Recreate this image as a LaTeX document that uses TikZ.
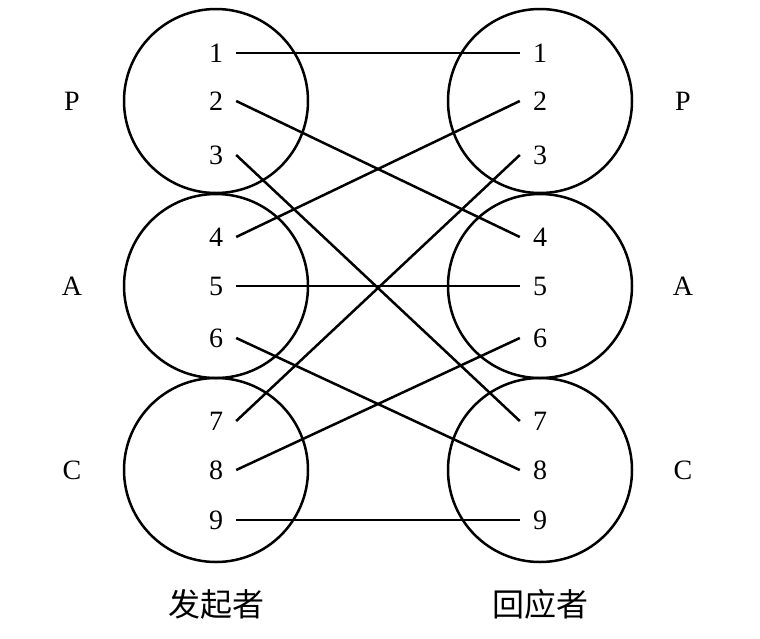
\documentclass[tikz,border=0pt]{standalone}
\usepackage{fontspec}
\setmainfont{Liberation Serif}
\newfontfamily\cjk{Noto Sans CJK SC}
\begin{document}
\begin{tikzpicture}[x=1pt,y=-1pt,
  ring/.style={draw,line width=2.5pt,circle,minimum size=184pt,inner sep=0},
  num/.style={font=\fontsize{28}{28}\selectfont,inner sep=0,minimum width=40pt,minimum height=26pt},
  side/.style={font=\fontsize{28}{28}\selectfont},
  link/.style={line width=2.5pt}]
\useasboundingbox (0,0) rectangle (760,638);
\foreach \i/\y in {1/101,2/286,3/470}{
  \node[ring] (L\i) at (216,\y) {};
  \node[ring] (R\i) at (540,\y) {};
}
\foreach \n/\y in {1/53,2/101,3/155,4/237,5/286,6/338,7/421,8/470,9/520}{
  \node[num] (a\n) at (216,\y) {\n};
  \node[num] (b\n) at (540,\y) {\n};
}
\node[side] (pl) at (72,101) {P};
\node[side] (al) at (72,286) {A};
\node[side] (cl) at (72,470) {C};
\node[side] (pr) at (683,101) {P};
\node[side] (ar) at (683,286) {A};
\node[side] (cr) at (683,470) {C};
\node[font=\cjk\fontsize{32}{32}\selectfont] (t1) at (216,604) {发起者};
\node[font=\cjk\fontsize{32}{32}\selectfont] (t2) at (540,604) {回应者};
\foreach \p/\q in {1/1,2/4,3/7,4/2,5/5,6/8,7/3,8/6,9/9}{
  \draw[link] (a\p.east) -- (b\q.west);
}
\end{tikzpicture}
\end{document}
